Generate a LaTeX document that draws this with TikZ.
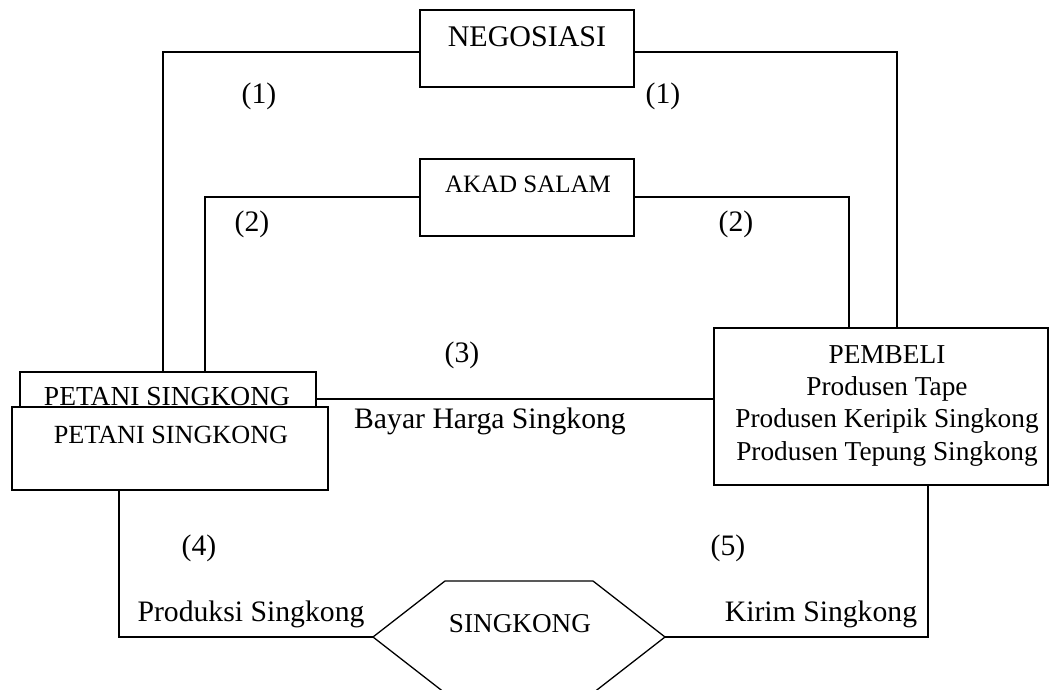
\documentclass[tikz,border=0pt]{standalone}
\usepackage{fontspec}
\setmainfont{Liberation Serif}
\begin{document}
\begin{tikzpicture}[x=1pt,y=-1pt,
  conn/.style={line width=1.3pt, line join=miter},
  box/.style={draw, line width=1.3pt, fill=white, inner sep=0pt},
  lbl/.style={anchor=base, inner sep=0pt, font=\fontsize{29.7}{35}\selectfont},
  pemtxt/.style={anchor=base, inner sep=0pt, font=\fontsize{27.3}{32}\selectfont}]
\useasboundingbox (0,0) rectangle (1050,690);
% boxes (shapes only)
\node[box, minimum width=214pt, minimum height=77pt] (neg) at (527,48.5) {};
\node[box, minimum width=214pt, minimum height=77pt] (aka) at (527,197.5) {};
\node[box, minimum width=334pt, minimum height=157pt] (pem) at (881,406.5) {};
% coordinates for connector corners
\coordinate (o1) at (163,52);
\coordinate (o2) at (897,52);
\coordinate (i1) at (205,197);
\coordinate (i2) at (849,197);
\coordinate (mid) at (462,399);
\coordinate (bl) at (119,637);
\coordinate (br) at (928,637);
\coordinate (hexL) at (373,637);
\coordinate (hexTL) at (445,581);
\coordinate (hexTR) at (593,581);
\coordinate (hexR) at (665,637);
\coordinate (hexBR) at (593,693);
\coordinate (hexBL) at (445,693);
\coordinate (petTop) at (163,372);
% connectors
\draw[conn] (petTop) -- (o1) -- (neg.west |- o1);
\draw[conn] (neg.east |- o2) -- (o2) -- (pem.north -| o2);
\draw[conn] (petTop -| i1) -- (i1) -- (aka.west |- i1);
\draw[conn] (aka.east |- i2) -- (i2) -- (pem.north -| i2);
\draw[conn] (316,399) -- (pem.west |- mid);
\draw[conn] (bl |- 490,490) -- (bl) -- (hexL);
\draw[conn] (pem.south -| br) -- (br) -- (hexR);
% hexagon
\draw[conn] (hexL) -- (hexTL) -- (hexTR) -- (hexR) -- (hexBR) -- (hexBL) -- cycle;
% petani boxes
\node[box, minimum width=296pt, minimum height=98pt] (pet1) at (168,421) {};
\node[box, minimum width=316pt, minimum height=83pt] (pet2) at (170,448.5) {};
% texts
\node[lbl, font=\fontsize{30}{36}\selectfont] (tneg) at (527,47) {NEGOSIASI};
\node[lbl, font=\fontsize{25}{30}\selectfont] (taka) at (528,193) {AKAD SALAM};
\node[lbl, font=\fontsize{27.5}{33}\selectfont] (tpet1) at (167,405) {PETANI SINGKONG};
\node[lbl, font=\fontsize{26.2}{31}\selectfont] (tpet2) at (171,443) {PETANI SINGKONG};
\node[pemtxt] (tpemA) at (887,363) {PEMBELI};
\node[pemtxt] (tpemB) at (887,395) {Produsen Tape};
\node[pemtxt] (tpemC) at (887,427) {Produsen Keripik Singkong};
\node[pemtxt] (tpemD) at (887,460) {Produsen Tepung Singkong};
\node[lbl, font=\fontsize{27.2}{33}\selectfont] (tsing) at (520,632) {SINGKONG};
\node[lbl] (l1a) at (259,103.5) {(1)};
\node[lbl] (l1b) at (663,103.5) {(1)};
\node[lbl] (l2a) at (252,231.5) {(2)};
\node[lbl] (l2b) at (736,231.5) {(2)};
\node[lbl] (l3) at (462,362.5) {(3)};
\node[lbl] (bayar) at (490,428) {Bayar Harga Singkong};
\node[lbl] (l4) at (199,555.5) {(4)};
\node[lbl] (l5) at (728,555.5) {(5)};
\node[lbl] (prod) at (251,621) {Produksi Singkong};
\node[lbl] (kirim) at (821,621) {Kirim Singkong};
\end{tikzpicture}
\end{document}
